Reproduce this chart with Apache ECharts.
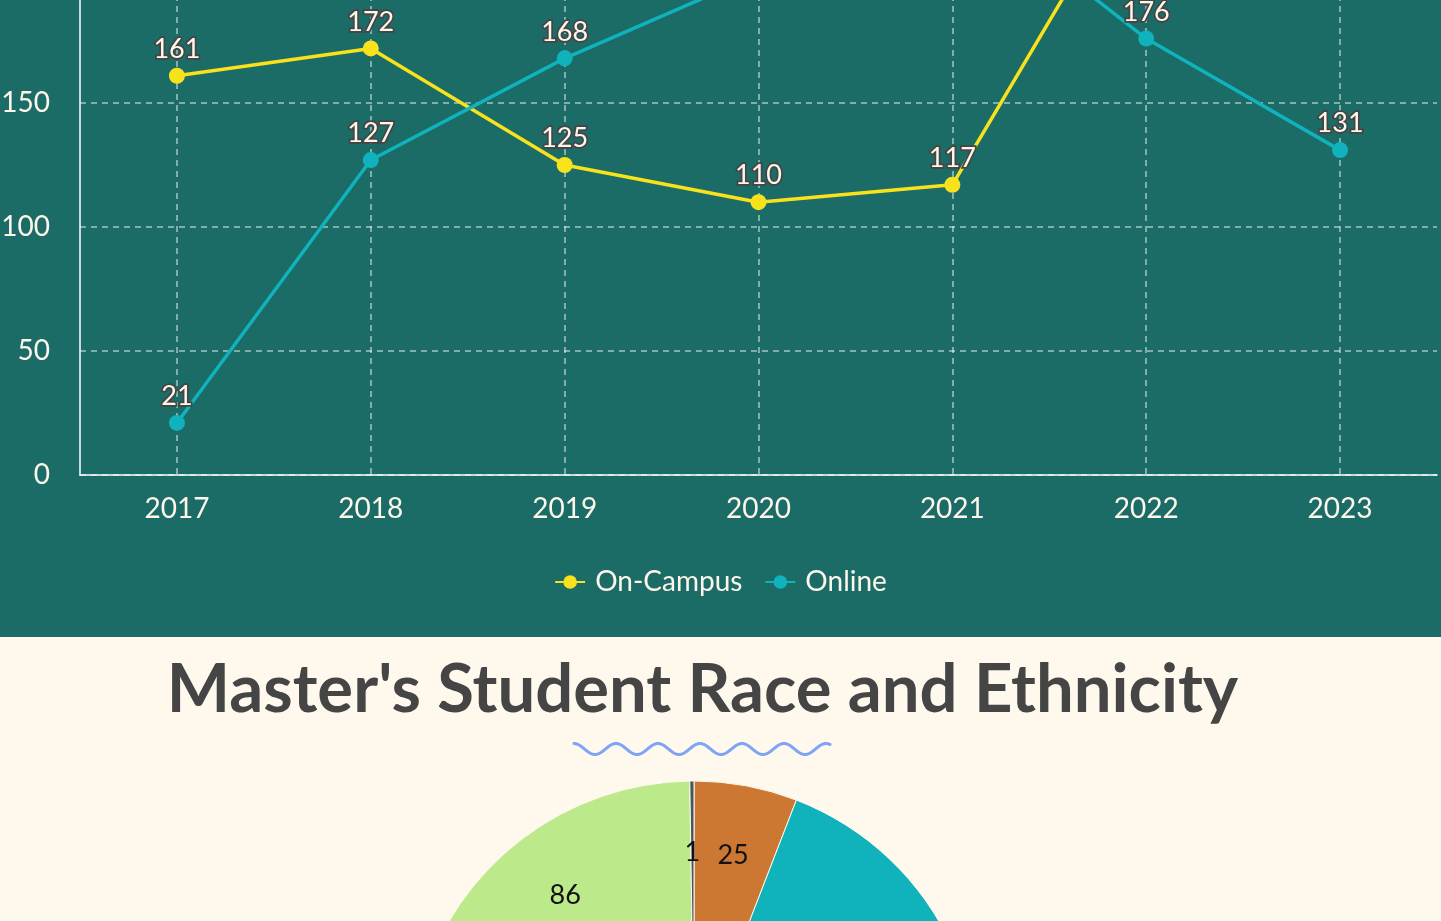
<!DOCTYPE html>
<html>
<head>
<meta charset="utf-8">
<title>Master's Students</title>
<script src="https://cdn.jsdelivr.net/npm/echarts@6/dist/echarts.min.js"></script>
<style>
  html, body { margin: 0; padding: 0; overflow: hidden; }
  .page {
    position: relative;
    width: 1441px;
    height: 921px;
    overflow: hidden;
    background: #fff8ec;
  }
  .trend {
    position: absolute;
    left: 0;
    top: 0;
    width: 1441px;
    height: 637px;
    background: #1b6b67;
    overflow: hidden;
  }
  /* the chart is scrolled: its upper part sits above the window */
  #lineChart {
    position: absolute;
    left: 0;
    top: -300px;
    width: 1441px;
    height: 937px;
  }
  .section-title {
    position: absolute;
    left: 0;
    top: 646px;
    width: 1405px;
    margin: 0;
    text-align: center;
    font-family: Lato, sans-serif;
    font-weight: 700;
    font-size: 67px;
    line-height: 80px;
    color: #454545;
    white-space: nowrap;
  }
  .wave {
    position: absolute;
    left: 571px;
    top: 738px;
  }
  #pieChart {
    position: absolute;
    left: 0;
    top: 637px;
    width: 1441px;
    height: 760px;
  }
</style>
</head>
<body>
<div class="page">
  <div class="trend">
    <div id="lineChart"></div>
  </div>
  <h2 class="section-title">Master's Student Race and Ethnicity</h2>
  <svg class="wave" width="262" height="22"><path id="wavePath" fill="none" stroke="#7fa4f6" stroke-width="3" stroke-linecap="round"/></svg>
  <div id="pieChart"></div>
</div>

<script>
// enrolment by year
const years = ['2017', '2018', '2019', '2020', '2021', '2022', '2023']
const onCampus = [161, 172, 125, 110, 117, 249, 226]
const online = [21, 127, 168, 202, 237, 176, 131]

// race / ethnicity counts, clockwise from 12 o'clock
const raceGroups = ['Asian', 'Black or African American', 'Hispanic or Latino', 'International',
  'Two or More Races', 'Unknown', 'White', 'American Indian or Alaska Native']
const raceCounts = [25, 131, 96, 38, 26, 23, 86, 1]
const raceColors = ['#cc7833', '#10b2bb', '#f5e21d', '#1b6b67', '#f0916f', '#9aa7ad', '#bce98a', '#45575c']

const cream = '#fdf6ea'

// little wavy rule under the heading
const buildWave = () => {
  let d = ''
  for (let x = 0; x <= 256; x += 1) {
    const y = 11 - 5.5 * Math.cos((x / 42) * Math.PI * 2)
    d += (x === 0 ? 'M' : 'L') + (x + 3) + ' ' + y.toFixed(2) + ' '
  }
  document.getElementById('wavePath').setAttribute('d', d)
}

const lineSeries = (name, data, color) => ({
  name,
  type: 'line',
  data,
  symbol: 'circle',
  symbolSize: 16,
  lineStyle: { color, width: 3.5 },
  itemStyle: { color },
  label: {
    show: true,
    position: 'top',
    distance: 5,
    fontFamily: 'Lato',
    fontSize: 27,
    color: cream,
    textBorderColor: '#454545',
    textBorderWidth: 3.5
  },
  emphasis: { disabled: true }
})

const initLineChart = () => {
  const chart = echarts.init(document.getElementById('lineChart'))
  const dashed = { color: 'rgba(255,255,255,0.6)', width: 1.5, type: [6, 5] }
  chart.setOption({
    animation: false,
    textStyle: { fontFamily: 'Lato' },
    legend: {
      data: ['On-Campus', 'Online'],
      top: 863,
      left: 'center',
      itemWidth: 30,
      itemHeight: 17,
      itemGap: 22,
      textStyle: { color: cream, fontSize: 28, fontFamily: 'Lato', padding: [0, 0, 0, 5] }
    },
    grid: { left: 80, right: 4, top: 31, bottom: 162, containLabel: false, outerBoundsMode: 'none' },
    xAxis: {
      type: 'category',
      data: years,
      boundaryGap: true,
      axisLine: { lineStyle: { color: '#ffffff', width: 1.5 } },
      axisTick: { show: false },
      axisLabel: { color: cream, fontSize: 28, fontFamily: 'Lato', margin: 20 },
      splitLine: { show: true, alignWithLabel: true, lineStyle: dashed }
    },
    yAxis: {
      type: 'value',
      min: 0,
      max: 300,
      interval: 50,
      axisLine: { show: true, lineStyle: { color: '#ffffff', width: 1.5 } },
      axisTick: { show: false },
      axisLabel: { color: cream, fontSize: 28, fontFamily: 'Lato', margin: 30 },
      splitLine: { show: true, lineStyle: dashed }
    },
    series: [
      lineSeries('On-Campus', onCampus, '#f8e21b'),
      lineSeries('Online', online, '#10b2bb')
    ]
  })
}

const initPieChart = () => {
  const chart = echarts.init(document.getElementById('pieChart'))
  const slices = raceGroups.map((name, i) => ({
    name,
    value: raceCounts[i],
    itemStyle: { color: raceColors[i] }
  }))
  // invisible twin pie, wider, only to carry the value labels further out
  const labelSlices = raceGroups.map((name, i) => ({ name, value: raceCounts[i] }))
  chart.setOption({
    animation: false,
    series: [
      {
        type: 'pie',
        center: [694, 428],
        radius: 284,
        startAngle: 90,
        clockwise: true,
        data: slices,
        silent: true,
        label: { show: false },
        labelLine: { show: false },
        itemStyle: { borderColor: '#fff8ec', borderWidth: 1 }
      },
      {
        type: 'pie',
        center: [694, 428],
        radius: 420,
        startAngle: 90,
        clockwise: true,
        data: labelSlices,
        silent: true,
        itemStyle: { color: 'rgba(0,0,0,0)', borderWidth: 0 },
        label: {
          show: true,
          position: 'inside',
          formatter: '{c}',
          fontFamily: 'Lato',
          fontSize: 27,
          color: '#111111'
        },
        labelLine: { show: false }
      }
    ]
  })
}

buildWave()
initLineChart()
initPieChart()
</script>
</body>
</html>
